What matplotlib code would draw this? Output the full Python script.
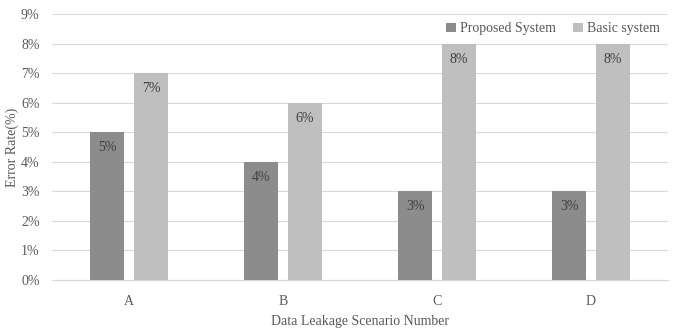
import numpy as np
import matplotlib.pyplot as plt
from matplotlib.ticker import FuncFormatter

scenarios = ['A', 'B', 'C', 'D']
proposed = [5, 4, 3, 3]
basic = [7, 6, 8, 8]
yticks = [0, 1, 2, 3, 4, 5, 6, 7, 8, 9]

plt.rcParams['font.family'] = ['Liberation Serif', 'DejaVu Serif']

fig = plt.figure(figsize=(6.8, 3.31), dpi=100)
ax = fig.add_axes([52/680, 1-280/331, 616/680, 266/331])

x = np.arange(len(scenarios))
w = 0.22
gap = 0.065
dark = '#8c8c8c'
light = '#bfbfbf'
b1 = ax.bar(x - (w+gap)/2, proposed, w, color=dark, label='Proposed System', zorder=3)
b2 = ax.bar(x + (w+gap)/2, basic, w, color=light, label='Basic system', zorder=3)

# value labels just inside the top of each bar
for bars, vals in ((b1, proposed), (b2, basic)):
    for b, v in zip(bars, vals):
        ax.annotate(f'{v}%', (b.get_x() + b.get_width()/2, v), xytext=(0, -6.5),
                    textcoords='offset points', ha='center', va='top',
                    fontsize=10, color='#404040', zorder=4)

ax.set_xlim(-0.5, 3.5)
ax.set_ylim(0, 9)
ax.set_yticks(yticks)
ax.yaxis.set_major_formatter(FuncFormatter(lambda v, p: f'{v:.0f}%'))
ax.set_xticks(x)
ax.set_xticklabels(scenarios)
ax.tick_params(length=0, labelsize=10, labelcolor='#595959')
ax.tick_params(axis='x', pad=11)
ax.tick_params(axis='y', pad=9)
ax.grid(axis='y', color='#d9d9d9', linewidth=0.8, zorder=0)
for s in ('top', 'right', 'left'):
    ax.spines[s].set_visible(False)
ax.spines['bottom'].set_color('#d9d9d9')

ax.set_ylabel('Error Rate(%)', fontsize=10, color='#595959')
ax.yaxis.set_label_coords(-0.054, 0.5)
ax.set_xlabel('Data Leakage Scenario Number', fontsize=10, color='#595959', labelpad=5)

ax.legend(loc='upper right', bbox_to_anchor=(1.0, 1.0), ncol=2, frameon=False,
          fontsize=10, handlelength=0.7, handleheight=0.7, handletextpad=0.3,
          columnspacing=1.2, labelcolor='#595959', borderaxespad=0.2)

fig.savefig('out.png', dpi=100)
